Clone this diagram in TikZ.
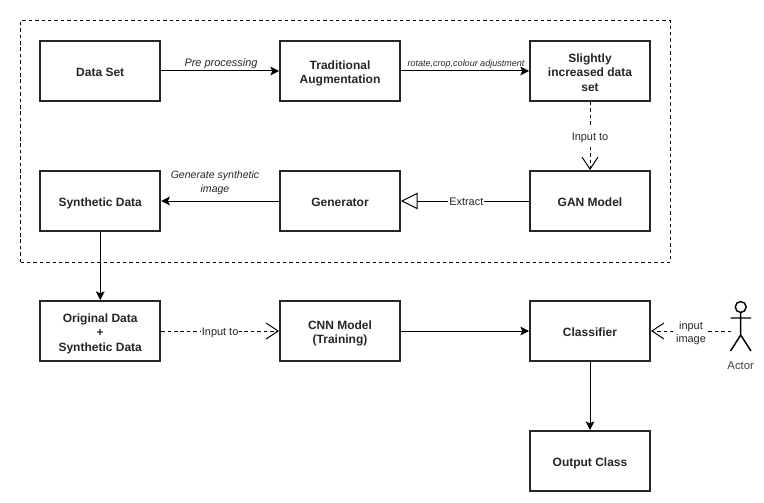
\documentclass[tikz,border=0pt]{standalone}
\usepackage{fontspec}
\setmainfont{Liberation Sans}
\usetikzlibrary{arrows.meta}
\newcommand\boxtext[1]{\vbox{\kern4.5pt\hbox{\begin{tabular}{@{}c@{}}#1\end{tabular}}}}
\newcommand\labeltext[1]{\vbox{\kern3pt\hbox{\begin{tabular}{@{}c@{}}#1\end{tabular}}}}
\tikzset{
  x=0.75pt,y=-0.75pt,
  box/.style={draw=black!85,line width=1.5pt,fill=white,minimum width=90pt,minimum height=45pt,inner sep=1pt,font=\fontsize{9}{10.7}\selectfont\bfseries,text=black!85},
  solidarrow/.style={draw=black,line width=0.75pt,-{Stealth[length=6.5pt,width=6.5pt,inset=1.5pt]}},
  dasharrow/.style={draw=black,line width=0.75pt,dash pattern=on 2.6pt off 2.2pt,-{Straight Barb[length=9pt,width=12pt,line width=0.75pt]}},
  openarrow/.style={draw=black,line width=0.75pt,-{Triangle[open,length=12.5pt,width=12.5pt,fill=white,line width=0.75pt]}},
  elabel/.style={font=\fontsize{8.2}{10}\selectfont,text=black!85,inner sep=0.8pt},
  whitelabel/.style={elabel,fill=white},
  italiclabel/.style={elabel,font=\fontsize{8.2}{10.5}\selectfont\itshape},
  actorline/.style={draw=black,line width=1.1pt},
}
\begin{document}
\begin{tikzpicture}
\useasboundingbox (0,0) rectangle (764,503);
\fill[white] (0,0) rectangle (764,503);
\node[draw=black,line width=0.75pt,dash pattern=on 2.6pt off 2.2pt,minimum width=487.5pt,minimum height=181pt,inner sep=0pt] (frame) at (345.5,141.5) {};

\node[box] (data) at (100.25,71) {\boxtext{Data Set}};
\node[box] (trad) at (340,71) {\boxtext{Traditional\\Augmentation}};
\node[box] (slight) at (590,71) {\boxtext{Slightly\\increased data\\set}};
\node[box] (gan) at (590,201) {\boxtext{GAN Model}};
\node[box] (gen) at (340,201) {\boxtext{Generator}};
\node[box] (syn) at (100.25,201) {\boxtext{Synthetic Data}};
\node[box] (orig) at (100.25,331) {\boxtext{Original Data\\+\\Synthetic Data}};
\node[box] (cnn) at (340,331) {\boxtext{CNN Model\\(Training)}};
\node[box] (clf) at (590,331) {\boxtext{Classifier}};
\node[box] (out) at (590,461) {\boxtext{Output Class}};

\draw[solidarrow] (data) -- (trad);
\node[italiclabel] (l1) at (221,62) {\labeltext{Pre processing}};
\draw[solidarrow] (trad) -- (slight);
\node[italiclabel,font=\fontsize{6.75}{8}\selectfont\itshape] (l2) at (466,62) {\labeltext{rotate,crop,colour adjustment}};
\draw[dasharrow] (slight) -- (gan) node[whitelabel,pos=0.5] (l3) {\labeltext{Input to}};
\draw[openarrow] (gan) -- (gen) node[whitelabel,pos=0.49] (l4) {\labeltext{Extract}};
\draw[solidarrow] (gen) -- (syn);
\node[italiclabel,font=\fontsize{7.9}{10.5}\selectfont\itshape] (l5) at (215,181) {\labeltext{Generate synthetic\\image}};
\draw[solidarrow] (syn) -- (orig);
\draw[dasharrow] (orig) -- (cnn) node[whitelabel,pos=0.5] (l6) {\labeltext{Input to}};
\draw[solidarrow] (cnn) -- (clf);
\draw[solidarrow] (clf) -- (out);

% actor
\coordinate (actorhand) at (731,331);
\coordinate (head) at (740.7,307);
\draw[actorline] (head) circle (4.1pt);
\draw[actorline] (740.7,312.5) -- (740.7,335) (730.5,318) -- (751,318)
  (730.5,351) -- (740.7,335) -- (751,351);
\node[font=\fontsize{8.5}{10}\selectfont,text=black!75,inner sep=0pt] (actor) at (740.7,365.5) {Actor};
\draw[dasharrow] (actorhand) -- (clf) node[whitelabel,pos=0.5] (l7) {\labeltext{input\\image}};
\end{tikzpicture}
\end{document}
